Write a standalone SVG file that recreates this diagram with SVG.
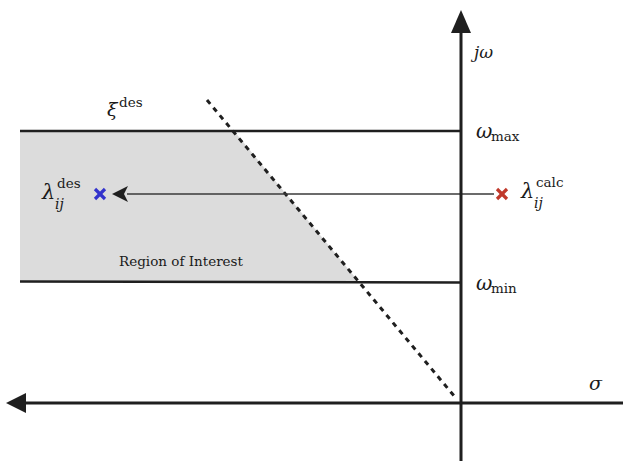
<svg xmlns="http://www.w3.org/2000/svg" width="623" height="461" viewBox="0 0 623 461">
<style>
text{font-family:'DejaVu Serif',serif;fill:#1a1a1a}
.it{font-style:italic}
.axis{stroke:#1f1f1f;stroke-width:3;fill:none}
.bound{stroke:#1f1f1f;stroke-width:2.6;fill:none}
.cross{stroke-width:3.2;stroke-linecap:butt}
</style>
<g id="region">
<polygon points="20,131 234,131 359,282 20,282" fill="#dcdcdc"/>
</g>
<g id="connectors">
<line class="bound" x1="20" y1="131" x2="461" y2="131"/>
<line class="bound" x1="20" y1="281.5" x2="461" y2="282.5"/>
<line x1="207" y1="100" x2="455" y2="397" stroke="#1f1f1f" stroke-width="3" stroke-dasharray="5,5"/>
<line x1="127" y1="194" x2="494" y2="194" stroke="#3a3a3a" stroke-width="1.3"/>
<path d="M112,194 L128,186 L124,194 L128,202 Z" fill="#1f1f1f"/>
<line class="axis" x1="461" y1="30" x2="461" y2="461"/>
<path d="M461,10 L471,33 L451,33 Z" fill="#1f1f1f"/>
<line class="axis" x1="24" y1="403" x2="623" y2="403"/>
<path d="M6,403 L26,393 L26,413 Z" fill="#1f1f1f"/>
</g>
<g id="des-point">
<line class="cross" x1="95" y1="189" x2="105" y2="199" stroke="#3333cc"/>
<line class="cross" x1="105" y1="189" x2="95" y2="199" stroke="#3333cc"/>
<text x="42" y="199" font-size="21" class="it">λ</text>
<text x="57" y="188" font-size="13.5">des</text>
<text x="55" y="209" font-size="14" class="it">ij</text>
</g>
<g id="calc-point">
<line class="cross" x1="497" y1="189" x2="507" y2="199" stroke="#c0392b"/>
<line class="cross" x1="507" y1="189" x2="497" y2="199" stroke="#c0392b"/>
<text x="521" y="198" font-size="21" class="it">λ</text>
<text x="536" y="187" font-size="13.5">calc</text>
<text x="534" y="208" font-size="14" class="it">ij</text>
</g>
<g id="labels">
<text x="107" y="116" font-size="19" class="it">ξ</text>
<text x="119" y="107" font-size="13.5">des</text>
<text x="474" y="58" font-size="17" class="it">jω</text>
<text x="476" y="138" font-size="20" class="it">ω</text>
<text x="491" y="141" font-size="13.5">max</text>
<text x="476" y="290" font-size="20" class="it">ω</text>
<text x="491" y="293" font-size="13.5">min</text>
<text x="589" y="390" font-size="19" class="it">σ</text>
<text x="181" y="266" font-size="13.5" text-anchor="middle">Region of Interest</text>
</g>
</svg>
